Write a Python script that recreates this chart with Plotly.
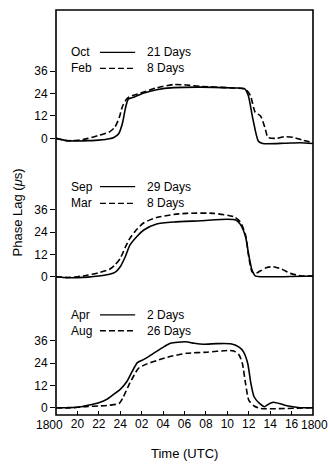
import plotly.graph_objects as go

# Time axis: hours elapsed since 18:00 UTC (0 .. 24)
tick_hours = [0, 2, 4, 6, 8, 10, 12, 14, 16, 18, 20, 22, 24]
tick_text = ["", "20", "22", "24", "02", "04", "06", "08", "10", "12", "14", "16", ""]
end_label = "1800"
y_ticks = [0, 12, 24, 36]

# Panel 1: October (21 days) vs February (8 days)
oct_t = [0, 1, 2, 3, 4, 5, 5.4, 5.85, 6.2, 6.5, 6.75, 7.25, 8.2, 9.4, 11, 13.5, 16.6, 17.6, 17.95,
         18.4, 18.9, 19.3, 21.3, 22.8, 24]
oct_v = [0, -1.2, -1.4, -1.2, -0.9, -0.2, 0.5, 2.5, 8, 16.5, 21, 22, 24.2, 26, 27.1, 27.4, 26.9, 26.6,
         23, 10, -1.5, -2.7, -2.6, -2.3, -2.7]
feb_t = [0, 1, 2, 3, 4, 5, 5.5, 5.9, 6.2, 6.6, 6.85, 8.2, 9.4, 11, 12.2, 13.5, 16.6, 17.7, 18.15,
         18.6, 19.1, 19.5, 19.8, 20.6, 21.3, 22.2, 23, 24]
feb_v = [0, -1.2, -1.0, 0, 1.6, 3.5, 6, 11, 17, 21, 22.2, 24.8, 27, 28.8, 28.5, 27.8, 26.9, 26.2,
         23, 14, 12, 6, 0.5, 0, 0.9, 0.5, -0.9, -2.3]

# Panel 2: September (29 days) vs March (8 days)
sep_t = [0, 1, 2, 3, 4, 5, 5.5, 6, 6.5, 6.9, 7.6, 8.2, 9.4, 11, 13.5, 16, 16.8, 17.2, 17.7, 18,
         18.3, 18.6, 19.1, 24]
sep_v = [0, -0.5, -0.5, -0.2, 0.4, 1.3, 2.3, 5.4, 11.2, 17, 22, 25.2, 28.4, 29.5, 30.2, 31, 30.6,
         28.4, 21.6, 11.7, 3.6, 0.5, 0, 0.4]
mar_t = [0, 1, 2, 3, 4, 5, 5.5, 6, 6.5, 6.9, 7.6, 8.2, 9.4, 11, 12.2, 14.7, 16.6, 17.2, 17.7, 18,
         18.3, 18.6, 19.1, 19.7, 20.3, 21.1, 21.9, 22.8, 24]
mar_v = [0, -0.4, 0, 0.9, 2.2, 4, 6.3, 9.9, 16.2, 20.7, 25.9, 29.1, 31.9, 33.6, 34.2, 34.2, 32.4,
         29.7, 22.5, 10.8, 2.7, 1.8, 3.2, 5, 5.4, 4, 1.8, 0.5, 0.4]

# Panel 3: April (2 days) vs August (26 days)
apr_t = [0, 1, 2, 3, 4, 4.8, 5.6, 6, 6.6, 7.1, 7.6, 8.2, 9.1, 10.1, 10.7, 12.1, 12.9, 13.8, 15,
         16.3, 17.1, 17.5, 17.9, 18.2, 18.5, 19, 19.5, 19.7, 20.3, 21.1, 21.7, 22.8, 24]
apr_v = [0, 0, 0.2, 1.3, 2.7, 4.7, 8.1, 9.9, 14, 19.4, 24.3, 26, 29.3, 32.9, 34.7, 35.5, 34.7,
         34.2, 34.5, 34.4, 32.6, 30.2, 23.9, 13.1, 5.9, 2.3, 0.5, 1.4, 2.9, 1.8, 0.9, 0, 0]
aug_t = [0, 1, 2, 3, 4, 5, 5.9, 6.3, 6.8, 7.3, 7.7, 8.5, 9.4, 10.4, 12.2, 14.1, 16, 16.6, 17.1,
         17.4, 17.7, 18, 18.5, 19.1, 24]
aug_v = [0, -0.2, 0.2, 0.7, 0.9, 1.3, 2.3, 5.9, 12.2, 17.6, 21.2, 23.6, 25.4, 27.2, 29.3, 29.9,
         30.8, 30.6, 28.4, 23.9, 13.1, 4.1, 0.9, -0.4, 0]

panels = [
    ("y", (oct_t, oct_v, "Oct", "21 Days"), (feb_t, feb_v, "Feb", "8 Days")),
    ("y2", (sep_t, sep_v, "Sep", "29 Days"), (mar_t, mar_v, "Mar", "8 Days")),
    ("y3", (apr_t, apr_v, "Apr", "2 Days"), (aug_t, aug_v, "Aug", "26 Days")),
]

FONT = "Liberation Sans, Arial, sans-serif"
INK = "black"
DASH = "6px,3px"

fig = go.Figure()
for yref, solid, dashed in panels:
    for (t, v, month, days), dash in ((solid, "solid"), (dashed, DASH)):
        fig.add_trace(go.Scatter(
            x=t, y=v, mode="lines", yaxis=yref, xaxis="x",
            name=f"{month} {days}",
            line=dict(color=INK, width=1.6, dash=dash, shape="spline", smoothing=0.6),
            hoverinfo="x+y+name", showlegend=False))

# Key text placement (paper coordinates) for each panel: month rows
key_rows = [(0.8956, 0.856), (0.5637, 0.5227), (0.247, 0.208)]
annotations = []
shapes = []
for (yref, solid, dashed), (ya, yb) in zip(panels, key_rows):
    for (t, v, month, days), yy, dash in ((solid, ya, "solid"), (dashed, yb, "dash")):
        annotations.append(dict(text=month, x=0.052, y=yy, xref="paper", yref="paper",
                                xanchor="left", yanchor="middle", showarrow=False,
                                font=dict(family=FONT, size=12, color=INK)))
        annotations.append(dict(text=days, x=0.347, y=yy, xref="paper", yref="paper",
                                xanchor="left", yanchor="middle", showarrow=False,
                                font=dict(family=FONT, size=12, color=INK)))
        shapes.append(dict(type="line", xref="paper", yref="paper", x0=0.171, x1=0.308,
                           y0=yy, y1=yy, line=dict(color=INK, width=1.3,
                                                   dash="solid" if dash == "solid" else DASH)))

# End-of-axis time labels
for hx, shift in ((0, -7), (24, 1)):
    annotations.append(dict(text=end_label, x=hx, y=0, xref="x", yref="paper",
                            xanchor="center", yanchor="top", yshift=-1, xshift=shift,
                            showarrow=False, font=dict(family=FONT, size=12, color=INK)))

# Axis titles
annotations.append(dict(text="Phase Lag (<i>μ</i>s)", x=-0.148, y=0.50, xref="paper",
                        yref="paper", textangle=-90, showarrow=False,
                        xanchor="center", yanchor="middle",
                        font=dict(family=FONT, size=13, color=INK)))
annotations.append(dict(text="Time (UTC)", x=0.5, y=-0.094, xref="paper", yref="paper",
                        showarrow=False, xanchor="center", yanchor="middle",
                        font=dict(family=FONT, size=13, color=INK)))

# Outer frame around all three panels
shapes.append(dict(type="rect", xref="paper", yref="paper", x0=0, x1=1, y0=0, y1=1,
                   line=dict(color=INK, width=1.6), layer="above"))

yaxis_common = dict(anchor="x", tickmode="array", tickvals=y_ticks,
                    ticks="outside", ticklen=5, tickwidth=1.2, tickcolor=INK,
                    showgrid=False, zeroline=False, showline=False,
                    tickfont=dict(family=FONT, size=12, color=INK))

fig.update_layout(
    width=329, height=471,
    margin=dict(l=56, r=16, t=10, b=56),
    paper_bgcolor="white", plot_bgcolor="white",
    xaxis=dict(anchor="y3", range=[0, 24], tickmode="array", tickvals=tick_hours,
               ticktext=tick_text, ticks="inside", ticklen=4, tickwidth=1.2,
               tickcolor=INK, showgrid=False, zeroline=False, showline=False,
               tickfont=dict(family=FONT, size=12, color=INK)),
    yaxis=dict(domain=[0.659, 1.0], range=[-5.19, 68.6], **yaxis_common),
    yaxis2=dict(domain=[0.321, 0.659], range=[-4.47, 69.4], **yaxis_common),
    yaxis3=dict(domain=[0.0, 0.321], range=[-3.94, 66.1], **yaxis_common),
    annotations=annotations,
    shapes=shapes,
    showlegend=False,
)

fig.write_html("out.html")
